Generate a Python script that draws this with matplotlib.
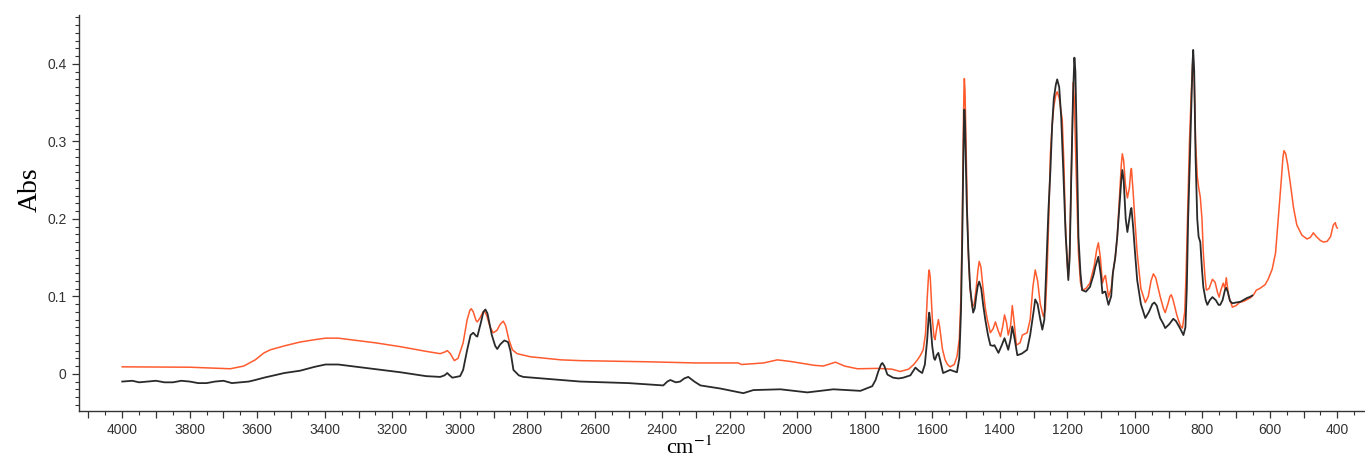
import matplotlib
matplotlib.use("Agg")
import matplotlib.pyplot as plt
from matplotlib.ticker import MultipleLocator, FuncFormatter

# ---- data: (wavenumber cm-1, absorbance) pairs ----
orange_points = [
    (4000, 0.009), (3800, 0.0085), (3680, 0.0065), (3640, 0.010), (3606, 0.018), (3580, 0.027),
    (3561, 0.031), (3520, 0.036), (3473, 0.041), (3430, 0.044), (3398, 0.046), (3360, 0.046),
    (3324, 0.044), (3250, 0.040), (3176, 0.035), (3100, 0.029), (3058, 0.026), (3045, 0.028),
    (3037, 0.030), (3028, 0.026), (3016, 0.017), (3005, 0.020), (2990, 0.040), (2978, 0.070),
    (2970, 0.082), (2966, 0.084), (2960, 0.080), (2952, 0.069), (2948, 0.067), (2940, 0.072),
    (2932, 0.079), (2927, 0.081), (2920, 0.075), (2910, 0.060), (2901, 0.053), (2890, 0.056),
    (2880, 0.064), (2871, 0.068), (2864, 0.062), (2855, 0.045), (2844, 0.031), (2830, 0.026),
    (2791, 0.022), (2700, 0.018), (2643, 0.017), (2443, 0.0155), (2300, 0.014), (2175, 0.014),
    (2165, 0.012), (2100, 0.014), (2059, 0.018), (2021, 0.016), (1950, 0.011), (1923, 0.010),
    (1887, 0.015), (1860, 0.010), (1822, 0.0065), (1763, 0.007), (1720, 0.006), (1695, 0.003),
    (1670, 0.006), (1655, 0.012), (1644, 0.018), (1635, 0.024), (1627, 0.031), (1620, 0.052),
    (1615, 0.098), (1611, 0.128), (1609, 0.134), (1606, 0.124), (1600, 0.072), (1595, 0.048),
    (1592, 0.044), (1587, 0.058), (1582, 0.070), (1578, 0.060), (1570, 0.032), (1562, 0.018),
    (1555, 0.012), (1547, 0.009), (1535, 0.012), (1527, 0.022), (1520, 0.045), (1515, 0.100),
    (1511, 0.200), (1508, 0.320), (1506, 0.370), (1505, 0.381), (1503, 0.365), (1501, 0.320),
    (1498, 0.250), (1496, 0.199), (1492, 0.140), (1488, 0.110), (1482, 0.086), (1476, 0.090),
    (1470, 0.110), (1465, 0.133), (1461, 0.145), (1456, 0.138), (1450, 0.112), (1443, 0.085),
    (1437, 0.070), (1428, 0.053), (1420, 0.058), (1413, 0.067), (1405, 0.056), (1398, 0.048),
    (1391, 0.062), (1386, 0.076), (1380, 0.066), (1375, 0.050), (1368, 0.062), (1363, 0.088),
    (1357, 0.065), (1351, 0.037), (1340, 0.040), (1333, 0.050), (1319, 0.053), (1310, 0.070),
    (1302, 0.112), (1295, 0.134), (1288, 0.120), (1280, 0.090), (1271, 0.074), (1265, 0.082),
    (1260, 0.130), (1255, 0.200), (1250, 0.285), (1245, 0.320), (1240, 0.345), (1234, 0.360),
    (1230, 0.364), (1224, 0.356), (1215, 0.328), (1210, 0.270), (1206, 0.199), (1200, 0.140),
    (1197, 0.125), (1193, 0.160), (1188, 0.260), (1184, 0.340), (1182, 0.376), (1179, 0.350),
    (1175, 0.280), (1170, 0.200), (1167, 0.156), (1161, 0.118), (1156, 0.108), (1145, 0.110),
    (1133, 0.117), (1120, 0.140), (1113, 0.160), (1108, 0.169), (1102, 0.150), (1096, 0.117),
    (1090, 0.125), (1087, 0.127), (1083, 0.115), (1078, 0.099), (1070, 0.110), (1065, 0.130),
    (1058, 0.150), (1052, 0.177), (1045, 0.230), (1040, 0.270), (1037, 0.284), (1033, 0.275),
    (1028, 0.245), (1022, 0.227), (1016, 0.240), (1012, 0.262), (1010, 0.265), (1005, 0.235),
    (1000, 0.200), (993, 0.156), (982, 0.110), (969, 0.092), (960, 0.100), (952, 0.120),
    (945, 0.129), (938, 0.124), (925, 0.100), (915, 0.084), (910, 0.079), (902, 0.090),
    (896, 0.100), (892, 0.102), (887, 0.096), (875, 0.075), (865, 0.062), (859, 0.059),
    (852, 0.080), (848, 0.130), (844, 0.199), (838, 0.300), (833, 0.360), (829, 0.398),
    (827, 0.408), (824, 0.380), (820, 0.300), (815, 0.255), (811, 0.241), (806, 0.228),
    (801, 0.200), (797, 0.156), (792, 0.125), (788, 0.108), (780, 0.110), (770, 0.122),
    (762, 0.118), (755, 0.105), (750, 0.099), (745, 0.108), (738, 0.117), (733, 0.110),
    (729, 0.124), (722, 0.100), (711, 0.086), (700, 0.088), (690, 0.092), (675, 0.094),
    (658, 0.098), (648, 0.102), (640, 0.108), (630, 0.110), (614, 0.115), (605, 0.122),
    (593, 0.135), (583, 0.156), (575, 0.200), (566, 0.250), (561, 0.280), (558, 0.288),
    (553, 0.284), (547, 0.270), (539, 0.245), (530, 0.215), (520, 0.192), (505, 0.179),
    (490, 0.174), (480, 0.176), (471, 0.182), (462, 0.177), (450, 0.172), (441, 0.170),
    (430, 0.171), (420, 0.177), (412, 0.192), (406, 0.195), (403, 0.190), (400, 0.188),
]

black_points = [
    (4000, -0.010), (3970, -0.009), (3950, -0.011), (3925, -0.010), (3900, -0.009),
    (3875, -0.011), (3850, -0.011), (3825, -0.009), (3800, -0.010), (3775, -0.012),
    (3750, -0.012), (3725, -0.010), (3700, -0.009), (3675, -0.012), (3650, -0.011),
    (3625, -0.010), (3606, -0.008), (3580, -0.005), (3550, -0.002), (3520, 0.001),
    (3473, 0.004), (3430, 0.009), (3398, 0.012), (3360, 0.012), (3324, 0.010), (3250, 0.006),
    (3176, 0.002), (3100, -0.003), (3058, -0.004), (3045, -0.002), (3037, 0.001),
    (3030, -0.002), (3022, -0.005), (2999, -0.003), (2990, 0.005), (2978, 0.031),
    (2968, 0.050), (2960, 0.053), (2952, 0.049), (2948, 0.048), (2938, 0.065), (2930, 0.080),
    (2924, 0.083), (2918, 0.078), (2905, 0.050), (2895, 0.036), (2889, 0.032), (2880, 0.038),
    (2868, 0.043), (2857, 0.041), (2850, 0.030), (2841, 0.005), (2825, -0.002),
    (2812, -0.004), (2700, -0.008), (2643, -0.010), (2500, -0.012), (2397, -0.015),
    (2385, -0.010), (2376, -0.008), (2360, -0.011), (2347, -0.010), (2335, -0.006),
    (2323, -0.004), (2305, -0.010), (2287, -0.015), (2228, -0.019), (2160, -0.025),
    (2130, -0.021), (2050, -0.020), (1970, -0.024), (1893, -0.020), (1813, -0.022),
    (1778, -0.016), (1768, -0.008), (1760, 0.003), (1752, 0.012), (1748, 0.014),
    (1742, 0.010), (1733, -0.001), (1716, -0.005), (1700, -0.006), (1686, -0.005),
    (1665, -0.002), (1650, 0.008), (1640, 0.004), (1630, 0.001), (1622, 0.012),
    (1615, 0.045), (1611, 0.072), (1609, 0.079), (1606, 0.068), (1600, 0.035), (1595, 0.020),
    (1592, 0.018), (1587, 0.024), (1582, 0.027), (1577, 0.018), (1568, 0.001), (1547, 0.005),
    (1527, 0.002), (1520, 0.020), (1515, 0.080), (1511, 0.180), (1508, 0.280), (1506, 0.330),
    (1505, 0.341), (1503, 0.325), (1501, 0.280), (1498, 0.220), (1493, 0.156), (1488, 0.112),
    (1485, 0.100), (1479, 0.079), (1474, 0.085), (1470, 0.100), (1465, 0.114), (1461, 0.119),
    (1455, 0.110), (1449, 0.088), (1443, 0.070), (1435, 0.050), (1428, 0.037), (1420, 0.036),
    (1416, 0.037), (1410, 0.032), (1404, 0.027), (1395, 0.036), (1386, 0.046), (1380, 0.038),
    (1375, 0.031), (1368, 0.045), (1363, 0.061), (1356, 0.045), (1348, 0.024), (1335, 0.026),
    (1319, 0.031), (1310, 0.050), (1300, 0.080), (1295, 0.096), (1288, 0.090), (1280, 0.070),
    (1274, 0.057), (1268, 0.070), (1262, 0.140), (1256, 0.210), (1250, 0.263), (1245, 0.320),
    (1240, 0.355), (1234, 0.373), (1230, 0.380), (1224, 0.370), (1218, 0.330), (1212, 0.263),
    (1205, 0.180), (1199, 0.135), (1197, 0.121), (1193, 0.150), (1188, 0.260), (1183, 0.360),
    (1179, 0.408), (1176, 0.390), (1172, 0.300), (1167, 0.177), (1161, 0.130), (1156, 0.108),
    (1145, 0.106), (1133, 0.112), (1122, 0.128), (1117, 0.138), (1108, 0.151), (1100, 0.125),
    (1096, 0.104), (1090, 0.106), (1087, 0.106), (1083, 0.098), (1078, 0.089), (1070, 0.100),
    (1065, 0.130), (1058, 0.150), (1052, 0.177), (1045, 0.220), (1040, 0.250), (1037, 0.263),
    (1033, 0.250), (1027, 0.200), (1022, 0.183), (1016, 0.200), (1012, 0.212), (1010, 0.214),
    (1005, 0.190), (1000, 0.160), (993, 0.121), (982, 0.090), (969, 0.072), (958, 0.080),
    (948, 0.090), (942, 0.092), (935, 0.088), (925, 0.072), (915, 0.064), (910, 0.059),
    (898, 0.064), (886, 0.071), (878, 0.068), (865, 0.058), (856, 0.050), (850, 0.060),
    (846, 0.110), (842, 0.200), (838, 0.260), (833, 0.340), (829, 0.400), (827, 0.418),
    (824, 0.390), (820, 0.280), (815, 0.200), (811, 0.177), (806, 0.170), (801, 0.135),
    (797, 0.112), (790, 0.095), (785, 0.089), (778, 0.095), (770, 0.099), (760, 0.095),
    (752, 0.089), (747, 0.089), (740, 0.095), (733, 0.108), (729, 0.111), (724, 0.105),
    (718, 0.094), (711, 0.091), (700, 0.092), (687, 0.093), (675, 0.096), (667, 0.098),
    (660, 0.099), (652, 0.101),
]

x_major_labels = [4000, 3800, 3600, 3400, 3200, 3000, 2800, 2600, 2400, 2200, 2000,
                  1800, 1600, 1400, 1200, 1000, 800, 600, 400]
y_tick_values = [0, 0.1, 0.2, 0.3, 0.4]
y_tick_labels = ["0", "0.1", "0.2", "0.3", "0.4"]

orange_wn, orange_abs = zip(*orange_points)
black_wn, black_abs = zip(*black_points)

fig = plt.figure(figsize=(13.65, 4.62), dpi=100)
ax = fig.add_axes([0.0579, 0.1104, 0.9421, 0.857])

ax.plot(orange_wn, orange_abs, color="#ff5b2e", lw=1.1, solid_joinstyle="round")
ax.plot(black_wn, black_abs, color="#2a2a2a", lw=1.3, solid_joinstyle="round")

ax.set_xlim(4128, 318)
ax.set_ylim(-0.048, 0.463)

for s in ("top", "right"):
    ax.spines[s].set_visible(False)
for s in ("left", "bottom"):
    ax.spines[s].set_color("#333333")
    ax.spines[s].set_linewidth(1.0)

ax.xaxis.set_major_locator(MultipleLocator(100))
ax.xaxis.set_minor_locator(MultipleLocator(50))
ax.xaxis.set_major_formatter(FuncFormatter(
    lambda v, p: f"{int(round(v))}" if int(round(v)) in x_major_labels else ""))
ax.set_yticks(y_tick_values)
ax.set_yticklabels(y_tick_labels)
ax.yaxis.set_minor_locator(MultipleLocator(0.01))

ax.tick_params(axis="both", which="major", direction="out", length=5, width=0.9,
               color="#333333", labelsize=10, labelcolor="#333333", pad=4)
ax.tick_params(axis="both", which="minor", direction="out", length=3, width=0.8,
               color="#333333")
for lab in ax.get_xticklabels() + ax.get_yticklabels():
    lab.set_family("Liberation Sans")

fig.text(0.022, 0.59, "Abs", rotation=90, ha="center", va="center",
         family="Liberation Serif", fontsize=20)
fig.text(0.505, 0.006, "cm$^{-1}$", ha="center", va="bottom",
         family="Liberation Serif", fontsize=16, math_fontfamily="stix")

fig.savefig("out.png", dpi=100)
